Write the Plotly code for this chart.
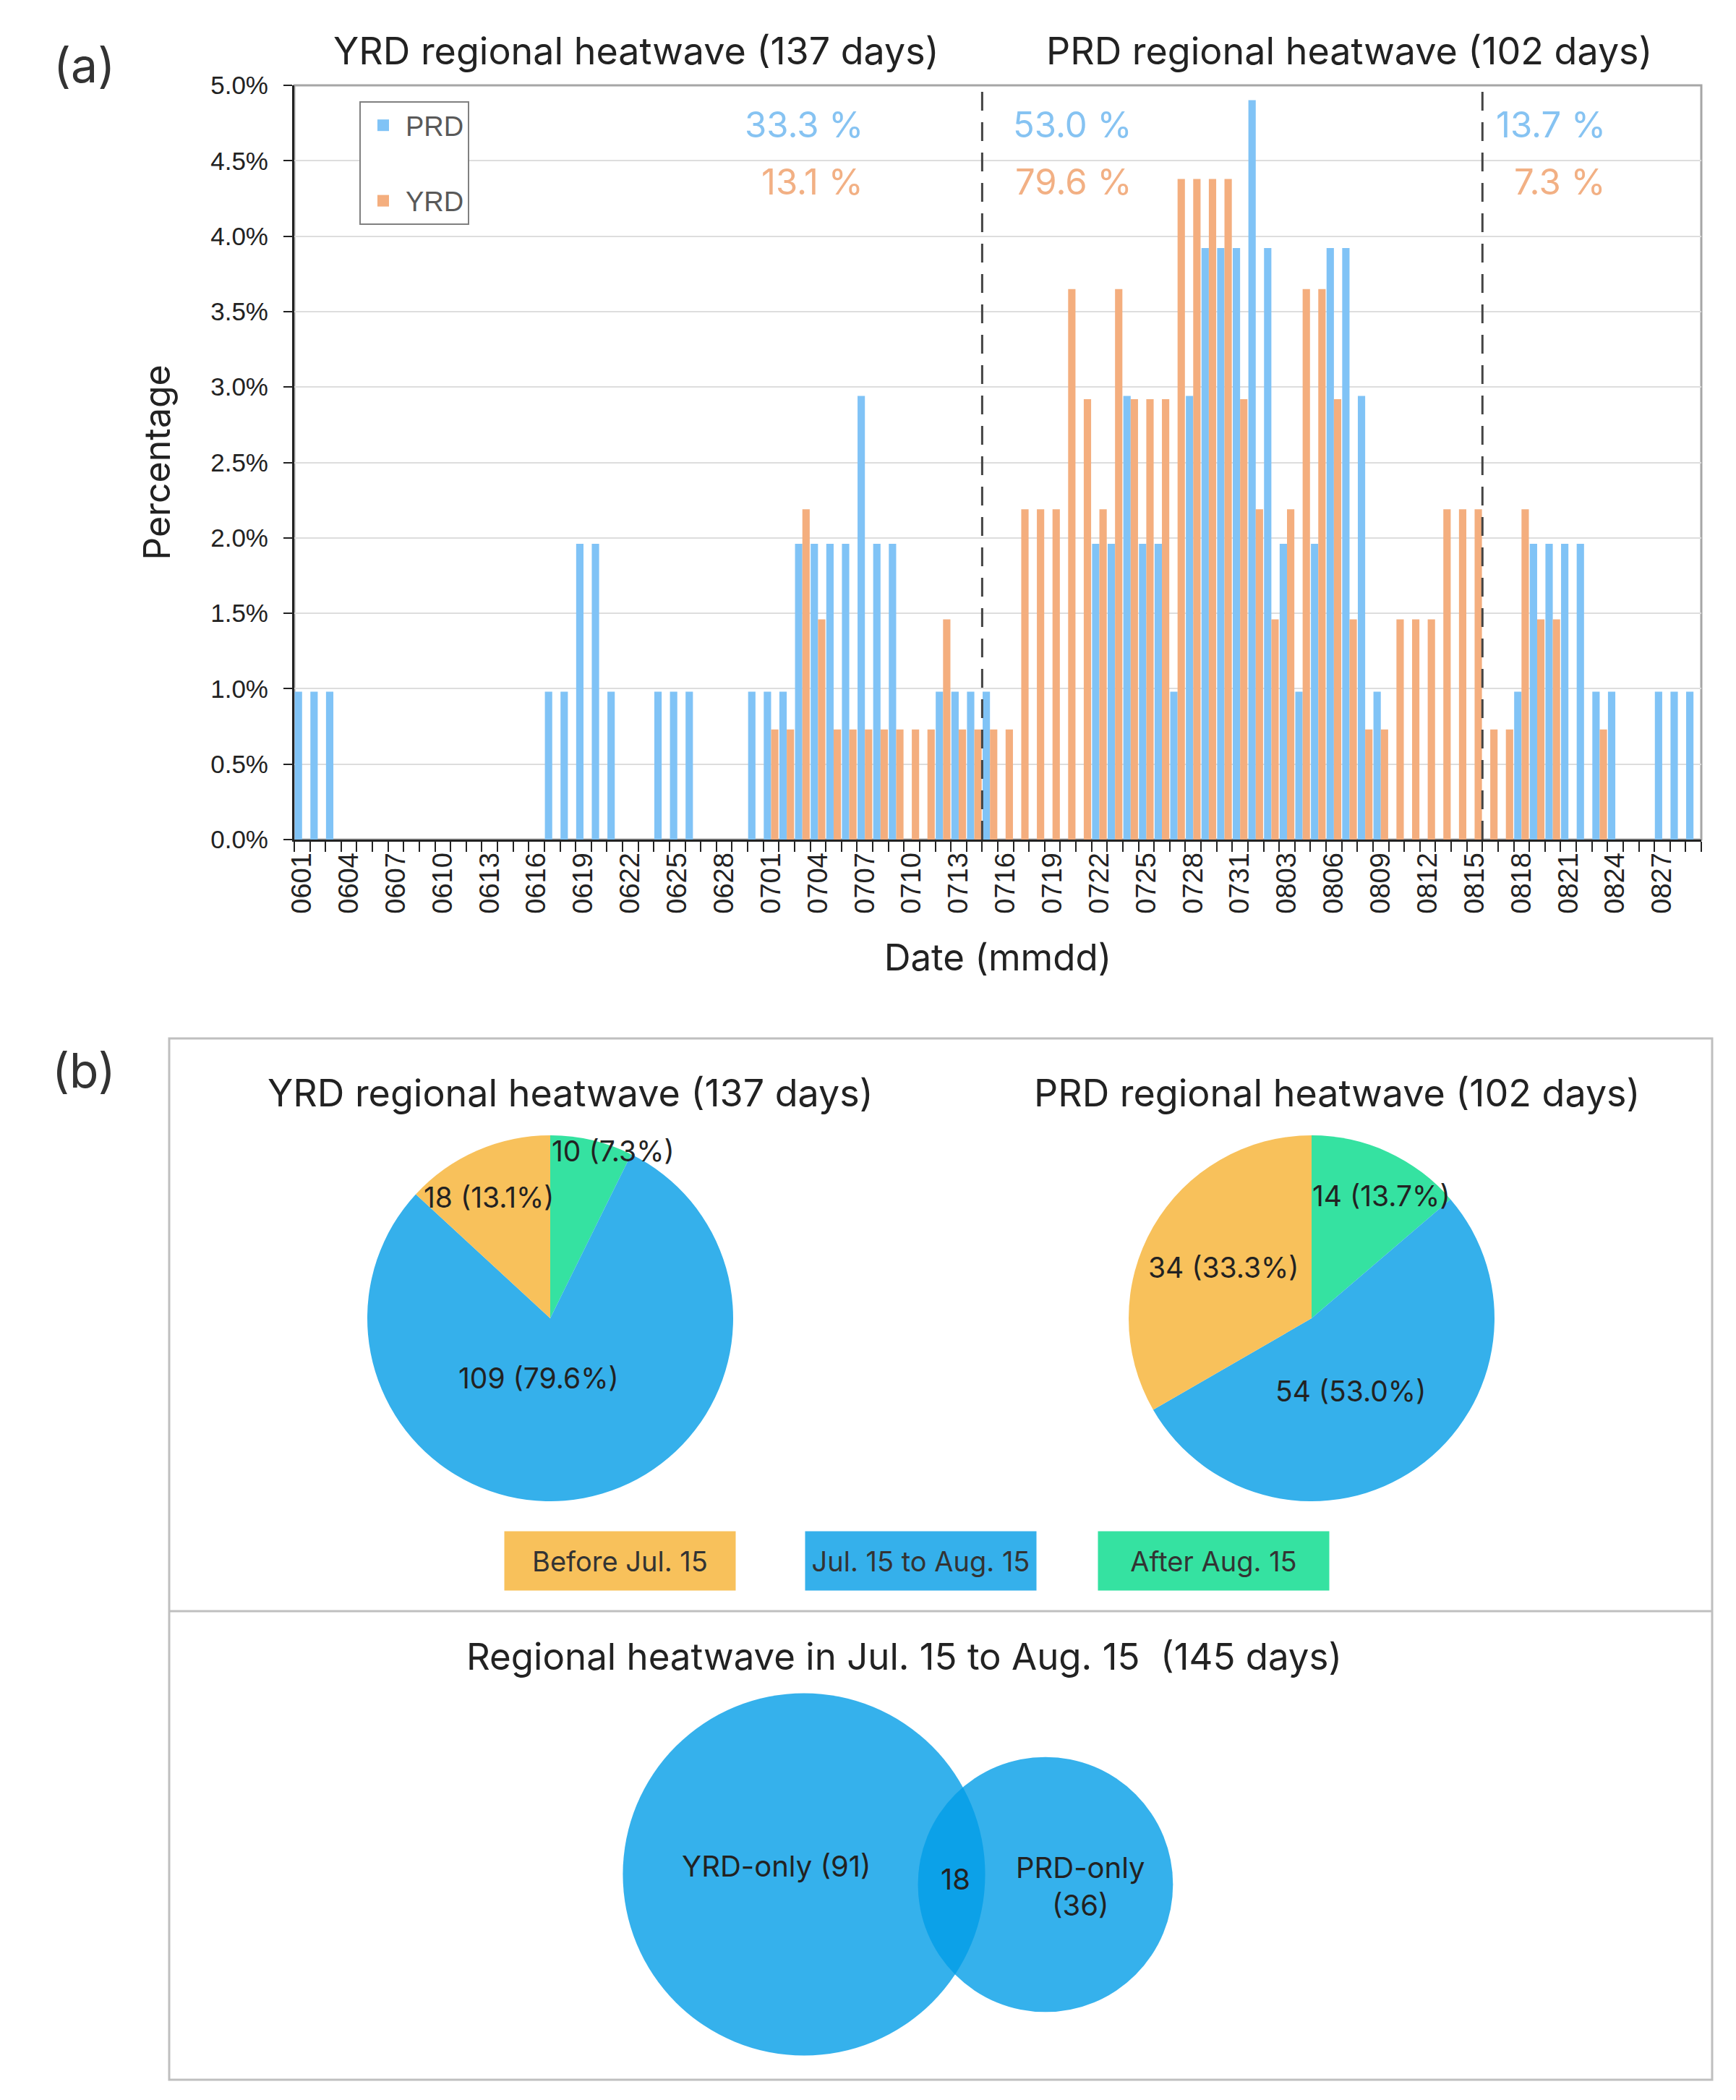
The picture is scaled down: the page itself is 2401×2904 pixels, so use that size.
import numpy as np
import pandas as pd
import plotly.graph_objects as go

W, H = 2401, 2904

# ---- panel (a) data: number of regional-heatwave days per calendar day ----
days = pd.date_range("2000-06-01", "2000-08-29").strftime("%m%d").tolist()

prd_jun = [1, 1, 1, 0, 0, 0, 0, 0, 0, 0, 0, 0, 0, 0, 0, 0, 1, 1, 2, 2, 1, 0, 0, 1, 1, 1, 0, 0, 0, 1]
prd_jul = [1, 1, 2, 2, 2, 2, 3, 2, 2, 0, 0, 1, 1, 1, 1, 0, 0, 0, 0, 0, 0, 2, 2, 3, 2, 2, 1, 3, 4, 4, 4]
prd_aug = [5, 4, 2, 1, 2, 4, 4, 3, 1, 0, 0, 0, 0, 0, 0, 0, 0, 1, 2, 2, 2, 2, 1, 1, 0, 0, 1, 1, 1]

yrd_jun = [0] * 30
yrd_jul = [1, 1, 3, 2, 1, 1, 1, 1, 1, 1, 1, 2, 1, 1, 1, 1, 3, 3, 3, 5, 4, 3, 5, 4, 4, 4, 6, 6, 6, 6, 4]
yrd_aug = [3, 2, 3, 5, 5, 4, 2, 1, 1, 2, 2, 2, 3, 3, 3, 1, 1, 3, 2, 2, 0, 0, 1, 0, 0, 0, 0, 0, 0]

prd_days = prd_jun + prd_jul + prd_aug
yrd_days = yrd_jun + yrd_jul + yrd_aug
prd_total = 102
yrd_total = 137

tick_labels = ["0601", "0604", "0607", "0610", "0613", "0616", "0619", "0622", "0625", "0628",
               "0701", "0704", "0707", "0710", "0713", "0716", "0719", "0722", "0725", "0728",
               "0731", "0803", "0806", "0809", "0812", "0815", "0818", "0821", "0824", "0827"]

period_start = ["0715", "0816"]          # first day of the middle / last period
period_prd_pct = ["33.3 %", "53.0 %", "13.7 %"]
period_yrd_pct = ["13.1 %", "79.6 %", "7.3 %"]
period_label_x = [36.5, 53.7, 84.0]     # right edge of the period labels

# ---- panel (b) data ----
periods = ["Before Jul. 15", "Jul. 15 to Aug. 15", "After Aug. 15"]
yrd_counts = [18, 109, 10]
yrd_pct = [13.1, 79.6, 7.3]
prd_counts = [34, 54, 14]
prd_pct = [33.3, 53.0, 13.7]
venn_labels = ["YRD-only (91)", "18", "PRD-only<br>(36)"]
venn_yrd_only, venn_both, venn_prd_only = 91, 18, 36

C_PRD = "#80C3F6"
C_YRD = "#F4AE7E"
PIE_COLORS = ["#F8C15B", "#35B0EB", "#35E2A1"]
FONT = "Inter, Lato, Liberation Sans, sans-serif"
TICKFONT = "Liberation Sans, Arial, sans-serif"


def px(x):
    return x / W


def py(y):
    return 1 - y / H


x_pos = np.arange(len(days)) + 0.5
prd_pctv = np.array(prd_days) / prd_total * 100
yrd_pctv = np.array(yrd_days) / yrd_total * 100

fig = go.Figure()
fig.add_trace(go.Bar(x=x_pos, y=prd_pctv, name="PRD", marker_color=C_PRD,
                     marker_line_width=0, showlegend=False))
fig.add_trace(go.Bar(x=x_pos, y=yrd_pctv, name="YRD", marker_color=C_YRD,
                     marker_line_width=0, showlegend=False))
# legend entries with larger square keys
for name, col in [("PRD", C_PRD), ("YRD", C_YRD)]:
    fig.add_trace(go.Scatter(x=[None], y=[None], mode="markers", name=name, legendgroup=name,
                             marker=dict(symbol="square", size=16, color=col)))

# pies: before Jul.15 runs anticlockwise from 12 o'clock, after Aug.15 clockwise
pie_specs = [(yrd_counts, 753, 1815), (prd_counts, 1806, 1815)]
for vals, cx, cy in pie_specs:
    r = 253
    fig.add_trace(go.Pie(values=vals[::-1], labels=periods[::-1], sort=False, direction="clockwise",
                         rotation=0, marker=dict(colors=PIE_COLORS[::-1], line=dict(width=0)),
                         textinfo="none", hoverinfo="label+value", showlegend=False,
                         domain=dict(x=[px(cx - r), px(cx + r)], y=[py(cy + r), py(cy - r)])))

x_dom = [px(399), px(2345)]
y_dom = [py(1153), py(110)]

fig.update_layout(
    width=W, height=H,
    margin=dict(l=0, r=0, t=0, b=0),
    paper_bgcolor="white", plot_bgcolor="white",
    barmode="group", bargap=0.06, bargroupgap=0,
    font=dict(family=FONT, color="#222222"),
    xaxis=dict(domain=x_dom, range=[0, len(days)], type="linear",
               tickmode="array", tickvals=[days.index(t) + 0.5 for t in tick_labels],
               ticktext=tick_labels, tickangle=-90, ticks="", showgrid=False, zeroline=False,
               tickfont=dict(family=TICKFONT, size=38, color="#222222"),
               showline=True, linecolor="#222222", linewidth=3,
               minor=dict(tickmode="linear", tick0=0, dtick=1, ticks="outside", ticklen=14,
                          tickwidth=2, tickcolor="#222222", showgrid=False),
               title=dict(text="Date (mmdd)", font=dict(size=51, color="#222222"), standoff=44),
               automargin=False, fixedrange=True),
    yaxis=dict(domain=y_dom, range=[0, 5], dtick=0.5, tickformat=".1f", ticksuffix="%",
               showgrid=True, gridcolor="#DDDDDD", gridwidth=2, zeroline=False,
               ticks="outside", ticklen=12, tickwidth=2, tickcolor="#222222",
               ticklabelstandoff=14,
               showline=True, linecolor="#222222", linewidth=3,
               tickfont=dict(family=TICKFONT, size=35, color="#222222"),
               title=dict(text="Percentage", font=dict(size=50, color="#222222"), standoff=40),
               automargin=False, fixedrange=True),
    legend=dict(x=px(489), y=py(132), xanchor="left", yanchor="top",
                bordercolor="#808080", borderwidth=2, bgcolor="white",
                font=dict(family=TICKFONT, size=38, color="#595959"),
                tracegroupgap=52, traceorder="grouped", itemwidth=52),
)

shapes = []
# gray frame of the bar chart
shapes.append(dict(type="rect", xref="x domain", yref="y domain", x0=0, x1=1, y0=0, y1=1,
                   line=dict(color="#A6A6A6", width=3), layer="below"))
for d in period_start:
    xb = days.index(d)
    shapes.append(dict(type="line", xref="x", yref="y domain", x0=xb, x1=xb, y0=0, y1=1,
                       line=dict(color="#444444", width=3, dash="26px,16px")))

# panel (b) frame and divider
shapes.append(dict(type="rect", xref="paper", yref="paper", x0=px(226), x1=px(2360),
                   y0=py(2868), y1=py(1428), line=dict(color="#BFBFBF", width=3)))
shapes.append(dict(type="line", xref="paper", yref="paper", x0=px(226), x1=px(2360),
                   y0=py(2220), y1=py(2220), line=dict(color="#BFBFBF", width=3)))

# Venn circles: radius proportional to sqrt(days) in Jul.15-Aug.15
k = 24.0
r_yrd = k * np.sqrt(venn_yrd_only + venn_both)
r_prd = k * np.sqrt(venn_prd_only + venn_both)
lens = 93
cx_yrd, cy_yrd = 1104, 2584
cx_prd, cy_prd = cx_yrd + r_yrd + r_prd - lens, 2598
for cx, cy, r in [(cx_yrd, cy_yrd, r_yrd), (cx_prd, cy_prd, r_prd)]:
    shapes.append(dict(type="circle", xref="paper", yref="paper",
                       x0=px(cx - r), x1=px(cx + r), y0=py(cy + r), y1=py(cy - r),
                       fillcolor="rgb(3,158,231)", opacity=0.8, line=dict(width=0)))
fig.update_layout(shapes=shapes)

ann = []


def text(x, y, s, size, color="#222222", xanchor="center", family=FONT, **kw):
    ann.append(dict(x=x, y=y, text=s, showarrow=False, xanchor=xanchor, yanchor="middle",
                    font=dict(family=family, size=size, color=color), **kw))


text(px(108), py(82), "(a)", 66, "#333333", xref="paper", yref="paper")
text(px(108), py(1472), "(b)", 66, "#333333", xref="paper", yref="paper")
text(px(872), py(62), "YRD regional heatwave (%d days)" % yrd_total, 52, xref="paper", yref="paper")
text(px(1858), py(62), "PRD regional heatwave (%d days)" % prd_total, 52, xref="paper", yref="paper")

for xl, sp, sy in zip(period_label_x, period_prd_pct, period_yrd_pct):
    text(xl, 4.74, sp, 49, "#86C3F2", xanchor="right", xref="x", yref="y")
    text(xl, 4.36, sy, 49, "#F2B084", xanchor="right", xref="x", yref="y")

text(px(781), py(1503), "YRD regional heatwave (%d days)" % sum(yrd_counts), 52, xref="paper", yref="paper")
text(px(1841), py(1503), "PRD regional heatwave (%d days)" % sum(prd_counts), 52, xref="paper", yref="paper")

yrd_text_pos = [(668, 1648), (737, 1897), (840, 1584)]
prd_text_pos = [(1684, 1745), (1860, 1916), (1902, 1645)]
for counts, pcts, pos in [(yrd_counts, yrd_pct, yrd_text_pos), (prd_counts, prd_pct, prd_text_pos)]:
    for c, p, (tx, ty) in zip(counts, pcts, pos):
        text(px(tx), py(ty), "%d (%.1f%%)" % (c, p), 39, xref="paper", yref="paper")

for lab, col, bx in zip(periods, PIE_COLORS, [849, 1265, 1671]):
    text(px(bx), py(2150), lab, 38, "#333333", xref="paper", yref="paper",
         bgcolor=col, width=317, height=79, align="center", valign="middle")

text(px(1242), py(2282), "Regional heatwave in Jul. 15 to Aug. 15  (%d days)"
     % (venn_yrd_only + venn_both + venn_prd_only), 51, xref="paper", yref="paper")
text(px(1066), py(2572), venn_labels[0], 40, xref="paper", yref="paper")
text(px(1313), py(2590), venn_labels[1], 40, xref="paper", yref="paper")
text(px(1486), py(2600), venn_labels[2], 40, xref="paper", yref="paper")

fig.update_layout(annotations=ann)
fig.write_html("out.html")
